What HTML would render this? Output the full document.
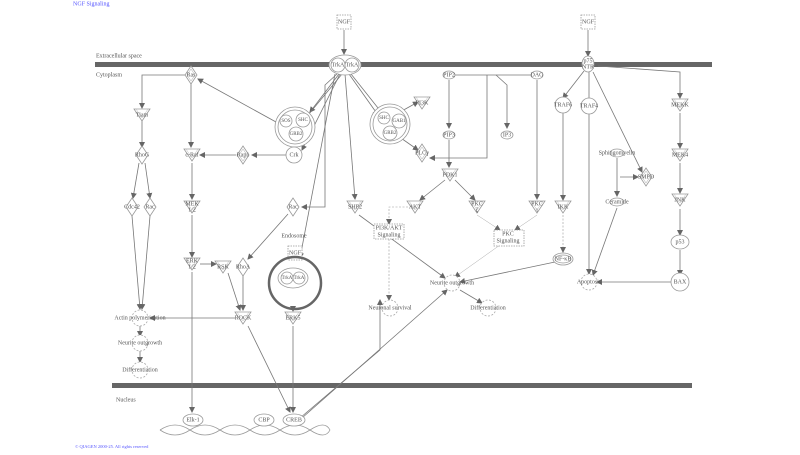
<!DOCTYPE html>
<html><head><meta charset="utf-8"><style>
body{margin:0;background:#fff;width:800px;height:450px;overflow:hidden}
svg text{font-family:"Liberation Serif",serif;font-size:6px;fill:#555;text-anchor:middle;dominant-baseline:middle}
</style></head><body>
<svg width="800" height="450" viewBox="0 0 800 450">
<defs>
<marker id="a" markerWidth="6" markerHeight="6" refX="5" refY="3" orient="auto" markerUnits="userSpaceOnUse"><path d="M0,0L6,3L0,6z" fill="#666"/></marker>
<g id="tri"><path d="M-8,-6H8L0,6z" fill="#fff" stroke="#999" stroke-width="0.8"/><path d="M-6,-6H6L0,3z" fill="none" stroke="#bbb" stroke-width="0.5"/></g>
<g id="dia"><path d="M0,-9L6,0L0,9L-6,0z" fill="#fff" stroke="#999" stroke-width="0.8"/></g>
<g id="ddia"><path d="M0,-9L6,0L0,9L-6,0z" fill="#fff" stroke="#999" stroke-width="0.8"/><path d="M0,-6L4,0L0,6L-4,0z" fill="none" stroke="#bbb" stroke-width="0.6"/></g>
<g id="gear"><circle r="8" fill="#fff" stroke="#aaa" stroke-width="0.8" stroke-dasharray="2,1.5"/></g>
</defs>
<text x="73" y="4" style="fill:#55f;text-anchor:start;font-size:6px">NGF Signaling</text>
<text x="75" y="447" style="fill:#55f;text-anchor:start;font-size:4.5px">© QIAGEN 2000-25. All rights reserved</text>
<rect x="95" y="62" width="617" height="5" fill="#666"/>
<rect x="112" y="383" width="580" height="5" fill="#666"/>
<text x="96" y="56" style="text-anchor:start">Extracellular space</text>
<text x="96" y="75" style="text-anchor:start">Cytoplasm</text>
<text x="116" y="400" style="text-anchor:start">Nucleus</text>

<g stroke="#777" stroke-width="0.8" fill="none" marker-end="url(#a)">
<path d="M344,30V54"/><path d="M588,30V56"/>
<path d="M191,75H142V108"/><path d="M142,121V147"/><path d="M139,163L133,198"/><path d="M145,163L150,198"/>
<path d="M132,216L140,309"/><path d="M150,216L142,309"/>
<path d="M191,84V147"/><path d="M192,163V199"/><path d="M192,215V257"/><path d="M192,272V412"/>
<path d="M276,122L198,79"/><path d="M286,155H252"/><path d="M236,155H200"/>
<path d="M339,74L310,112"/><path d="M342,74L304,120"/><path d="M340,74L302,150"/>
<path d="M345,74L355,199"/><path d="M349,74L378,115"/><path d="M351,74L382,113"/>
<path d="M337,74L325,85V207H302"/><path d="M335,74L300,258"/>
<path d="M400,112L418,102"/><path d="M398,136L418,150"/>
<path d="M449,80V128"/><path d="M449,140V167"/><path d="M454,75H537M487,75V158H430"/><path d="M496,75L507,85V128"/>
<path d="M537,80V199"/><path d="M445,180L420,200"/><path d="M455,180L475,200"/>
<path d="M200,264H216"/><path d="M228,273L240,310"/><path d="M243,276V310"/><path d="M288,214L248,259"/>
<path d="M235,318H150"/><path d="M140,326V336"/><path d="M140,351V362"/>
<path d="M293,306V311"/><path d="M293,326V412"/><path d="M248,326L290,412"/>
<path d="M359,215L445,278"/><path d="M555,262L460,282"/><path d="M460,290L482,303"/>
<path d="M300,418L380,350V300"/><path d="M302,418L447,290"/>
<path d="M584,71L563,98"/><path d="M589,72V274"/><path d="M593,72L642,172"/><path d="M598,66L680,72V98"/>
<path d="M563,113V200"/><path d="M680,113V148"/><path d="M680,163V193"/><path d="M680,209V235"/><path d="M680,250V275"/>
<path d="M671,282H597"/><path d="M617,158V196"/><path d="M617,208L593,275"/><path d="M620,177H638"/>
</g>
<g stroke="#999" stroke-width="0.6" fill="none" stroke-dasharray="2,1.5" marker-end="url(#a)">
<path d="M408,207H389V224"/><path d="M389,239V300"/><path d="M563,215V252"/>
</g>
<g stroke="#aaa" stroke-width="0.5" fill="none" marker-end="url(#a)">
<path d="M477,215L500,230"/><path d="M537,215L515,230"/><path d="M500,245L455,277"/>
</g>
<g stroke="#999" stroke-width="0.8" fill="#fff">
<rect x="337" y="15" width="14" height="14" stroke-dasharray="1.5,1"/>
<rect x="581" y="15" width="14" height="14" stroke-dasharray="1.5,1"/>
<ellipse cx="345" cy="65" rx="16" ry="10"/><circle cx="338" cy="65" r="7"/><circle cx="352" cy="65" r="7"/>
<ellipse cx="588" cy="64" rx="6" ry="8"/>
<circle cx="295" cy="127" r="20"/><circle cx="295" cy="127" r="17"/>
<circle cx="286" cy="121" r="6"/><circle cx="303" cy="120" r="7"/><circle cx="296" cy="134" r="7"/>
<circle cx="294" cy="155" r="8"/>
<circle cx="390" cy="124" r="20"/><circle cx="390" cy="124" r="17"/>
<circle cx="384" cy="118" r="6"/><circle cx="399" cy="121" r="7"/><circle cx="390" cy="133" r="7"/>
<ellipse cx="449" cy="75" rx="6" ry="4"/><ellipse cx="449" cy="135" rx="6" ry="4"/><ellipse cx="507" cy="135" rx="6" ry="4"/><ellipse cx="537" cy="75" rx="6" ry="4"/>
<circle cx="563" cy="105" r="8"/><circle cx="589" cy="106" r="8"/>
<ellipse cx="617" cy="153" rx="7" ry="4"/><ellipse cx="617" cy="202" rx="7" ry="4"/>
<ellipse cx="680" cy="242" rx="9" ry="7"/><circle cx="680" cy="282" r="9"/>
<ellipse cx="563" cy="259" rx="10" ry="6"/><ellipse cx="563" cy="259" rx="8" ry="4"/>
<rect x="374" y="224" width="30" height="15" stroke-dasharray="1.5,1"/>
<rect x="494" y="230" width="30" height="16" stroke-dasharray="1.5,1"/>
<rect x="288" y="246" width="14" height="14" stroke-dasharray="1.5,1"/>
<ellipse cx="293" cy="278" rx="15" ry="10"/><circle cx="287" cy="278" r="6"/><circle cx="299" cy="278" r="6"/>
</g>
<circle cx="295" cy="283" r="26" fill="none" stroke="#666" stroke-width="2.5"/>
<g fill="#fff" stroke="#999" stroke-width="0.8">
<path d="M160,430 Q175,420 190,430 T220,430 T250,430 T280,430 T310,430 T330,430" fill="none"/>
<path d="M160,430 Q175,440 190,430 T220,430 T250,430 T280,430 T310,430 T330,430" fill="none"/>
<ellipse cx="193" cy="420" rx="10" ry="6"/><ellipse cx="264" cy="420" rx="10" ry="6"/><ellipse cx="294" cy="420" rx="11" ry="6"/>
</g>
<use href="#ddia" x="191" y="75"/><use href="#tri" x="142" y="115"/><use href="#dia" x="142" y="155"/>
<use href="#dia" x="132" y="207"/><use href="#dia" x="150" y="207"/><use href="#ddia" x="243" y="155"/>
<use href="#tri" x="192" y="155"/><use href="#tri" x="192" y="207"/><use href="#tri" x="192" y="264"/>
<use href="#tri" x="223" y="267"/><use href="#dia" x="243" y="267"/><use href="#dia" x="293" y="207"/>
<use href="#tri" x="243" y="318"/><use href="#tri" x="293" y="318"/><use href="#tri" x="355" y="207"/>
<use href="#tri" x="422" y="103"/><use href="#ddia" x="422" y="153"/><use href="#tri" x="450" y="175"/>
<use href="#tri" x="415" y="207"/><use href="#tri" x="477" y="207"/><use href="#tri" x="537" y="207"/>
<use href="#tri" x="563" y="207"/><use href="#tri" x="680" y="105"/><use href="#tri" x="680" y="155"/><use href="#tri" x="680" y="200"/>
<use href="#ddia" x="646" y="177"/>
<use href="#gear" x="140" y="318"/><use href="#gear" x="140" y="343"/><use href="#gear" x="140" y="370"/>
<use href="#gear" x="390" y="308"/><use href="#gear" x="452" y="283"/><use href="#gear" x="488" y="308"/><use href="#gear" x="589" y="282"/>
<text x="344" y="22">NGF</text><text x="588" y="22">NGF</text>
<text x="338" y="65">TrkA</text><text x="352" y="65">TrkA</text><text x="588" y="61">p75</text><text x="588" y="67">NTR</text>
<text x="191" y="75">Ras</text><text x="142" y="115">Tiam</text><text x="142" y="155">RhoG</text>
<text x="132" y="207">Cdc42</text><text x="150" y="207">Rac</text>
<text x="286" y="121" style="font-size:5px">SOS</text><text x="303" y="120" style="font-size:5px">SHC</text><text x="296" y="134" style="font-size:5px">GRB2</text>
<text x="294" y="155">Crk</text><text x="243" y="155">Rap1</text><text x="192" y="155">c-Raf</text>
<text x="192" y="204">MEK</text><text x="192" y="210">1/2</text><text x="192" y="261">ERK</text><text x="192" y="267">1/2</text>
<text x="223" y="267">RSK</text><text x="243" y="267">RhoA</text><text x="293" y="207">Rac</text>
<text x="294" y="236">Endosome</text><text x="295" y="253">NGF</text>
<text x="287" y="278" style="font-size:5px">TrkA</text><text x="299" y="278" style="font-size:5px">TrkA</text>
<text x="243" y="318">ROCK</text><text x="293" y="318">ERK5</text>
<text x="140" y="318">Actin polymerization</text><text x="140" y="343">Neurite outgrowth</text><text x="140" y="370">Differentiation</text>
<text x="355" y="207">SHP2</text>
<text x="384" y="118" style="font-size:5px">SHC</text><text x="399" y="121" style="font-size:5px">GAB1</text><text x="390" y="133" style="font-size:5px">GRB2</text>
<text x="422" y="103">PI3K</text><text x="422" y="153">PLCγ</text><text x="449" y="75">PIP2</text><text x="449" y="135">PIP3</text>
<text x="507" y="135">IP3</text><text x="537" y="75">DAG</text><text x="450" y="175">PDK1</text>
<text x="415" y="207">AKT</text><text x="477" y="204">PKC</text><text x="477" y="210">ζ</text><text x="537" y="204">PKC</text><text x="537" y="210">ι</text>
<text x="389" y="228">PI3K/AKT</text><text x="389" y="235">Signaling</text><text x="508" y="234">PKC</text><text x="508" y="241">Signaling</text>
<text x="390" y="308">Neuronal survival</text><text x="452" y="283">Neurite outgrowth</text><text x="488" y="308">Differentiation</text>
<text x="563" y="105">TRAF6</text><text x="589" y="106">TRAF4</text><text x="680" y="105">MEKK</text><text x="680" y="155">MEK4</text><text x="680" y="200">JNK</text>
<text x="680" y="242">p53</text><text x="680" y="282">BAX</text><text x="617" y="153">Sphingomyelin</text><text x="646" y="177">SMPD</text><text x="617" y="202">Ceramide</text>
<text x="563" y="207">IKK</text><text x="563" y="259">NF-κB</text><text x="589" y="282">Apoptosis</text>
<text x="193" y="420">Elk-1</text><text x="264" y="420">CBP</text><text x="294" y="420">CREB</text>
</svg>
</body></html>
